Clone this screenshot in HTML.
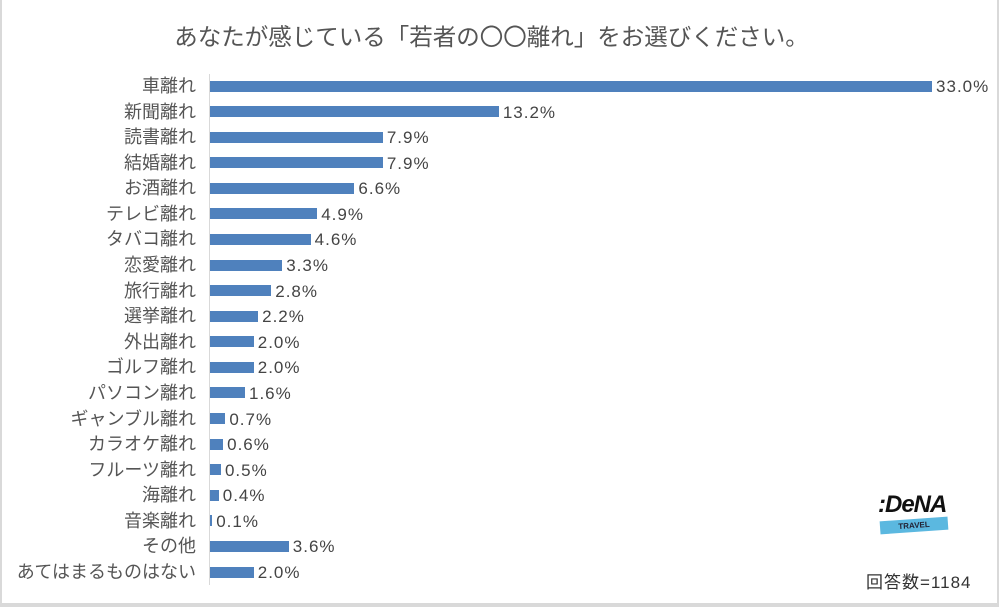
<!DOCTYPE html>
<html><head><meta charset="utf-8"><style>
body{margin:0;width:999px;height:607px;background:#d9d9d9;position:relative;overflow:hidden;font-family:"Liberation Sans","Noto Sans CJK JP",sans-serif}
#f{position:absolute;left:2px;top:0;width:995px;height:603px;background:#fff}
.t{position:absolute;left:0;width:983px;top:18px;text-align:center;font-size:23.5px;color:#555}
.l{position:absolute;right:803px;font-size:18px;color:#555;white-space:nowrap;line-height:18px}
.b{position:absolute;left:210px;height:11px;background:#4f81bd}
.v{position:absolute;font-size:17px;color:#444;line-height:18px;letter-spacing:1px}
</style></head><body><div id="f"></div>
<div class="t">あなたが感じている「若者の〇〇離れ」をお選びください。</div>
<div style="position:absolute;left:209px;top:74px;width:1px;height:511px;background:#d9d9d9"></div>
<div id="c"></div>
<div style="position:absolute;left:878px;top:491px;font-size:24px;font-weight:bold;color:#111;font-style:italic;letter-spacing:-1px">:DeNA</div>
<div style="position:absolute;left:880px;top:519px;width:68px;height:13px;background:#5bb8e0;transform:rotate(-4deg);font-size:8px;font-weight:bold;text-align:center;line-height:13px;color:#223">TRAVEL</div>
<div style="position:absolute;left:866px;top:568px;font-size:17px;color:#333;letter-spacing:1px">回答数=1184</div>
<script>
var d=[["車離れ",33.0],["新聞離れ",13.2],["読書離れ",7.9],["結婚離れ",7.9],["お酒離れ",6.6],["テレビ離れ",4.9],["タバコ離れ",4.6],["恋愛離れ",3.3],["旅行離れ",2.8],["選挙離れ",2.2],["外出離れ",2.0],["ゴルフ離れ",2.0],["パソコン離れ",1.6],["ギャンブル離れ",0.7],["カラオケ離れ",0.6],["フルーツ離れ",0.5],["海離れ",0.4],["音楽離れ",0.1],["その他",3.6],["あてはまるものはない",2.0]];
var h="";d.forEach(function(r,i){var y=86+i*25.58,w=r[1]*21.88;
h+='<div class="l" style="top:'+(y-9)+'px">'+r[0]+'</div><div class="b" style="top:'+(y-5.5)+'px;width:'+w+'px"></div><div class="v" style="top:'+(y-8)+'px;left:'+(214+w)+'px">'+r[1].toFixed(1)+'%</div>';});
document.getElementById("c").innerHTML=h;
</script></body></html>
